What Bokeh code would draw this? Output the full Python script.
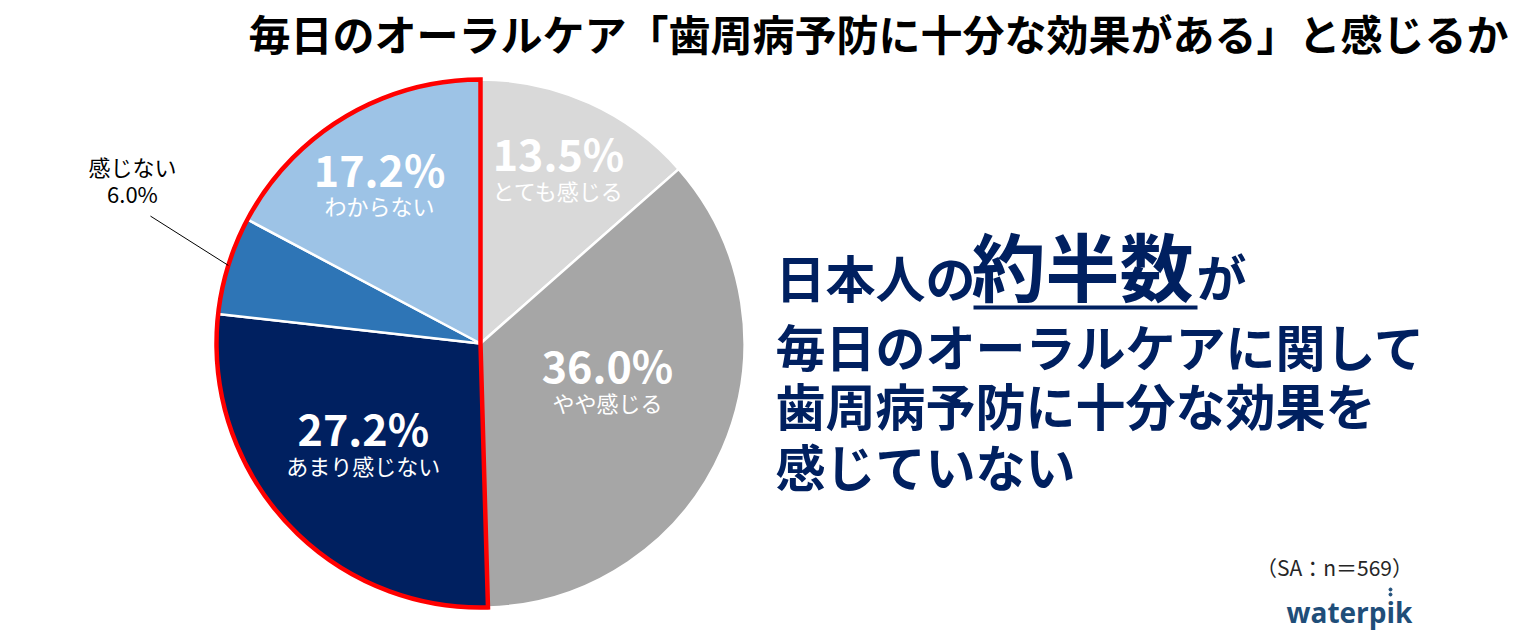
import numpy as np
from bokeh.plotting import figure
from bokeh.models import Range1d, ColumnDataSource
from bokeh.embed import file_html
from bokeh.resources import INLINE
from bokeh.core.properties import value

# ---------------- data ----------------
categories = ["とても感じる", "やや感じる", "あまり感じない", "感じない", "わからない"]
shares = [13.5, 36.0, 27.2, 6.0, 17.2]
pct_labels = ["13.5%", "36.0%", "27.2%", "6.0%", "17.2%"]
highlight = ["あまり感じない", "感じない", "わからない"]
title_text = "毎日のオーラルケア「歯周病予防に十分な効果がある」と感じるか"
message_head = ["日本人の", "約半数", "が"]
message_lines = ["毎日のオーラルケアに関して", "歯周病予防に十分な効果を", "感じていない"]
sample_note = "（SA：n＝569）"
brand = "waterpik"

# ---------------- style ----------------
colors = ["#d9d9d9", "#a6a6a6", "#002060", "#2e75b6", "#9dc3e6"]
NAVY = "#002060"
JP = value("Noto Sans CJK JP")
W, H = 1529, 634


def sy(y):
    return 634 - y


p = figure(width=W, height=H, x_range=Range1d(0, W), y_range=Range1d(634 - H, 634),
           output_backend="svg", toolbar_location=None, x_axis_type=None, y_axis_type=None,
           min_border=0, outline_line_color=None)
p.grid.visible = False
p.background_fill_color = "white"

CX, CY, R = 480, sy(343), 264

vals = np.array(shares, dtype=float)
cum = np.concatenate([[0], np.cumsum(vals)]) / vals.sum()
start_deg = 90 - 360 * cum[:-1]
end_deg = 90 - 360 * cum[1:]

src = ColumnDataSource(dict(cat=categories, start=np.radians(start_deg), end=np.radians(end_deg),
                            color=colors))
p.wedge(x=CX, y=CY, radius=R, start_angle="start", end_angle="end", direction="clock",
        fill_color="color", line_color="white", line_width=2.5, source=src)

# red outline around highlighted group
idx = [categories.index(c) for c in highlight]
h0, h1 = min(idx), max(idx)
p.wedge(x=CX, y=CY, radius=R, start_angle=np.radians(start_deg[h0]), end_angle=np.radians(end_deg[h1]),
        direction="clock", fill_color=None, line_color="#ff0000", line_width=4.5, line_join="miter")

# inside labels
label_r = [0.717, 0.504, 0.59, None, 0.706]
label_turn = [0.0, 6.1, -1.4, 0.0, 1.8]
px, py, pt, cx_, cy_, ct = [], [], [], [], [], []
for i in range(len(shares)):
    if label_r[i] is None:
        continue
    mid = np.radians((start_deg[i] + end_deg[i]) / 2 + label_turn[i])
    lx = CX + label_r[i] * R * np.cos(mid)
    ly = CY + label_r[i] * R * np.sin(mid)
    px.append(lx); py.append(ly + 19); pt.append(pct_labels[i])
    cx_.append(lx); cy_.append(ly - 18.5); ct.append(categories[i])
p.text(x=px, y=py, text=pt, text_font=JP, text_font_size="43px", text_font_style="bold",
       text_color="white", text_align="center", text_baseline="middle")
p.text(x=cx_, y=cy_, text=ct, text_font=JP, text_font_size="22px",
       text_color="white", text_align="center", text_baseline="middle")

# outside label for small slice
k = 3
mid = np.radians((start_deg[k] + end_deg[k]) / 2)
mid_out = np.radians((start_deg[k] + end_deg[k]) / 2 - 3.9)
ex, ey = CX + R * np.cos(mid), CY + R * np.sin(mid)
ox, oy = CX + 1.34 * R * np.cos(mid_out), CY + 1.34 * R * np.sin(mid_out)
p.line(x=[ex, ox], y=[ey, oy], line_color="black", line_width=1)
p.text(x=[ox - 18, ox - 18], y=[oy + 50, oy + 23], text=[categories[k], pct_labels[k]],
       text_font=JP, text_font_size="22px", text_color="black",
       text_align="center", text_baseline="middle")

# title
p.text(x=[878], y=[sy(32)], text=[title_text], text_font=JP, text_font_size="42px",
       text_font_style="bold", text_color="black", text_align="center", text_baseline="middle")

# message block
p.text(x=[775], y=[sy(275)], text=[message_head[0]], text_font=JP, text_font_size="50px",
       text_font_style="bold", text_color=NAVY, text_align="left", text_baseline="middle")
p.text(x=[971], y=[sy(263)], text=[message_head[1]], text_font=JP, text_font_size="74px",
       text_font_style="bold", text_color=NAVY, text_align="left", text_baseline="middle")
p.text(x=[1196], y=[sy(274)], text=[message_head[2]], text_font=JP, text_font_size="50px",
       text_font_style="bold", text_color=NAVY, text_align="left", text_baseline="middle")
p.line(x=[973, 1197], y=[sy(307), sy(307)], line_color=NAVY, line_width=4)
p.text(x=[775] * 3, y=[sy(344), sy(403), sy(464)], text=message_lines, text_font=JP,
       text_font_size="50px", text_font_style="bold", text_color=NAVY,
       text_align="left", text_baseline="middle")

# note and logo
p.text(x=[1334], y=[sy(566)], text=[sample_note], text_font=JP, text_font_size="21px",
       text_color="#262626", text_align="center", text_baseline="middle")
p.text(x=[1349], y=[sy(611)], text=[brand], text_font=value("Open Sans"), text_font_size="28px",
       text_font_style="bold", text_color="#1f4e79", text_align="center", text_baseline="middle")
p.scatter(x=[1390, 1390], y=[sy(589), sy(594)], size=3, color="#1f4e79")

open("out.html", "w").write(file_html(p, INLINE))
